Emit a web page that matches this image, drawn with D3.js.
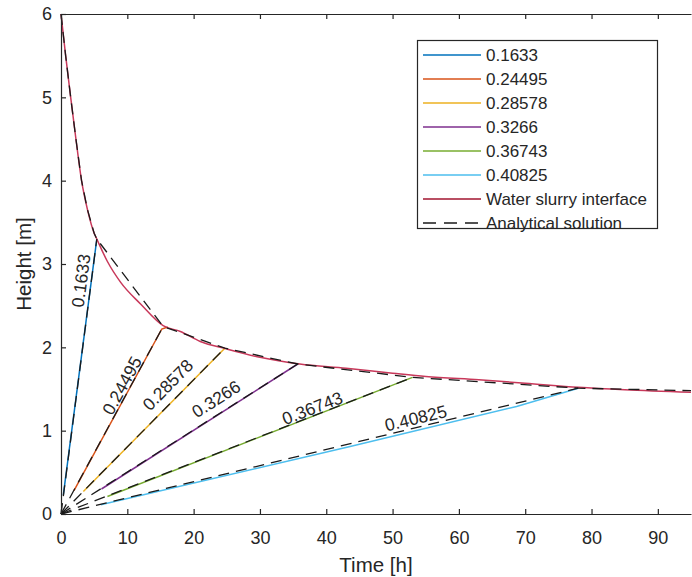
<!DOCTYPE html>
<html>
<head>
<meta charset="utf-8">
<script src="https://cdn.jsdelivr.net/npm/d3@7"></script>
<style>
  html, body { margin: 0; padding: 0; background: #fff; }
  svg { display: block; }
  text { font-family: "Liberation Sans", Arial, sans-serif; fill: #262626; }
</style>
</head>
<body>
<div id="chart"></div>
<script>
// ---------------- data ----------------
const seriesNames = ["0.1633", "0.24495", "0.28578", "0.3266", "0.36743", "0.40825"];
const seriesColors = ["#0072BD", "#D95319", "#EDB120", "#7E2F8E", "#77AC30", "#4DBEEE"];
// simulated lines (time [h], height [m])
const seriesTime = [
  [0.35, 5.4],
  [1.96, 15.2, 16.1],
  [3.37, 24.7],
  [6.1, 35.7],
  [7.0, 53.0],
  [6.0, 43.6, 68.7, 78.0]
];
const seriesHeight = [
  [0.23, 3.30],
  [0.28, 2.22, 2.245],
  [0.27, 1.99],
  [0.30, 1.80],
  [0.21, 1.64],
  [0.11, 0.81, 1.29, 1.51]
];
// water slurry interface
const interfaceTime   = [0, 0.7, 1.46, 2.25, 3.1, 4.0, 5.0, 5.4, 7.0, 9.0, 12.0, 15.4, 18.0, 21.0, 25.0, 30.0, 36.0, 43.0, 50.0, 55.0, 63.0, 70.0, 78.0, 85.0, 95.0];
const interfaceHeight = [6.0, 5.5, 5.0, 4.5, 4.0, 3.65, 3.37, 3.30, 3.03, 2.78, 2.52, 2.26, 2.19, 2.07, 1.98, 1.88, 1.80, 1.75, 1.69, 1.65, 1.61, 1.57, 1.52, 1.49, 1.46];
// analytical solution: interface part and fan of characteristics from origin
const analyticTime   = [0, 0.7, 1.46, 2.25, 3.1, 4.0, 5.0, 5.4, 15.4, 24.7, 35.7, 53.0, 78.0, 95.0];
const analyticHeight = [6.0, 5.5, 5.0, 4.5, 4.0, 3.65, 3.37, 3.30, 2.25, 1.99, 1.80, 1.64, 1.51, 1.48];
const fanEndTime   = [5.4, 15.4, 24.7, 35.7, 53.0, 78.0];
const fanEndHeight = [3.30, 2.25, 1.99, 1.80, 1.64, 1.51];
// in-plot labels (centre, data coords)
const labelTime   = [3.0, 9.2, 16.1, 23.4, 37.9, 53.5];
const labelHeight = [2.8, 1.54, 1.55, 1.38, 1.27, 1.15];
const interfaceName = "Water slurry interface";
const analyticName = "Analytical solution";
const xTicks = [0, 10, 20, 30, 40, 50, 60, 70, 80, 90];
const yTicks = [0, 1, 2, 3, 4, 5, 6];

// ---------------- layout ----------------
const W = 692, H = 577;
const m = { left: 61, top: 14, right: 1, bottom: 63 };
const axisColor = "#262626";

const svg = d3.select("#chart").append("svg").attr("width", W).attr("height", H);

const x = d3.scaleLinear().domain([0, 95]).range([m.left, W - m.right]);
const y = d3.scaleLinear().domain([0, 6]).range([H - m.bottom, m.top]);

const line = d3.line().x(d => x(d[0])).y(d => y(d[1]));
const smooth = d3.line().x(d => x(d[0])).y(d => y(d[1])).curve(d3.curveMonotoneX);
const zip = (a, b) => a.map((v, i) => [v, b[i]]);

const plot = svg.append("g");

// coloured simulation lines
seriesNames.forEach((n, i) => {
  plot.append("path")
    .attr("d", line(zip(seriesTime[i], seriesHeight[i])))
    .attr("fill", "none").attr("stroke", seriesColors[i]).attr("stroke-width", 1.5);
});
// interface
plot.append("path")
  .attr("d", smooth(zip(interfaceTime, interfaceHeight)))
  .attr("fill", "none").attr("stroke", "#C8385A").attr("stroke-width", 1.5);

// analytical dashed
const dash = "11,7";
plot.append("path")
  .attr("d", line(zip(analyticTime, analyticHeight)))
  .attr("fill", "none").attr("stroke", "#1a1a1a").attr("stroke-width", 1.3)
  .attr("stroke-dasharray", dash);
fanEndTime.forEach((t, i) => {
  plot.append("path")
    .attr("d", line([[0, 0], [t, fanEndHeight[i]]]))
    .attr("fill", "none").attr("stroke", "#1a1a1a").attr("stroke-width", 1.3)
    .attr("stroke-dasharray", dash);
});

// in-plot labels rotated along each fan line
seriesNames.forEach((n, i) => {
  const ang = Math.atan2(y(0) - y(fanEndHeight[i]), x(fanEndTime[i]) - x(0)) * 180 / Math.PI;
  const cx = x(labelTime[i]), cy = y(labelHeight[i]);
  plot.append("text")
    .attr("transform", `translate(${cx},${cy}) rotate(${-ang})`)
    .attr("text-anchor", "middle").attr("dy", "0.35em")
    .style("font-size", "17.5px")
    .text(n);
});

// ---------------- axes ----------------
const fmt = d3.format("d");
const xAxis = d3.axisBottom(x).tickValues(xTicks).tickFormat(fmt).tickSizeInner(-5).tickSizeOuter(0).tickPadding(17);
const gx = svg.append("g").attr("transform", `translate(0,${H - m.bottom})`).call(xAxis);
const yAxis = d3.axisLeft(y).tickValues(yTicks).tickFormat(fmt).tickSizeInner(-5).tickSizeOuter(0).tickPadding(9);
const gy = svg.append("g").attr("transform", `translate(${m.left},0)`).call(yAxis);
const xTop = d3.axisTop(x).tickValues(xTicks).tickSizeInner(-5).tickSizeOuter(0).tickFormat("");
const gt = svg.append("g").attr("transform", `translate(0,${m.top})`).call(xTop);
[gx, gy, gt].forEach(g => {
  g.select(".domain").attr("stroke", axisColor).attr("stroke-width", 1.2);
  g.selectAll(".tick line").attr("stroke", axisColor).attr("stroke-width", 1.2);
  g.selectAll(".tick text").style("font-size", "18px").attr("fill", axisColor)
    .style("font-family", '"Liberation Sans", Arial, sans-serif');
});

svg.append("text")
  .attr("x", (x(0) + x(95)) / 2).attr("y", 572)
  .attr("text-anchor", "middle").style("font-size", "20.5px")
  .text("Time [h]");
svg.append("text")
  .attr("transform", `translate(31,${(y(0) + y(6)) / 2}) rotate(-90)`)
  .attr("text-anchor", "middle").style("font-size", "20.5px")
  .text("Height [m]");

// ---------------- legend ----------------
const leg = svg.append("g");
leg.append("rect").attr("x", 417.5).attr("y", 40.5).attr("width", 240).attr("height", 188)
  .attr("fill", "#fff").attr("stroke", axisColor).attr("stroke-width", 1.2);
const legItems = seriesNames.map((n, i) => ({ name: n, color: seriesColors[i], dash: null }))
  .concat([{ name: interfaceName, color: "#A2142F", dash: null },
           { name: analyticName, color: "#1a1a1a", dash: "13,8" }]);
legItems.forEach((d, i) => {
  const yy = 55 + i * 24;
  leg.append("line").attr("x1", 423).attr("x2", 481).attr("y1", yy).attr("y2", yy)
    .attr("stroke", d.color).attr("stroke-width", 1.5)
    .attr("stroke-dasharray", d.dash);
  leg.append("text").attr("x", 486).attr("y", yy).attr("dy", "0.35em")
    .style("font-size", "17px").text(d.name);
});
</script>
</body>
</html>
